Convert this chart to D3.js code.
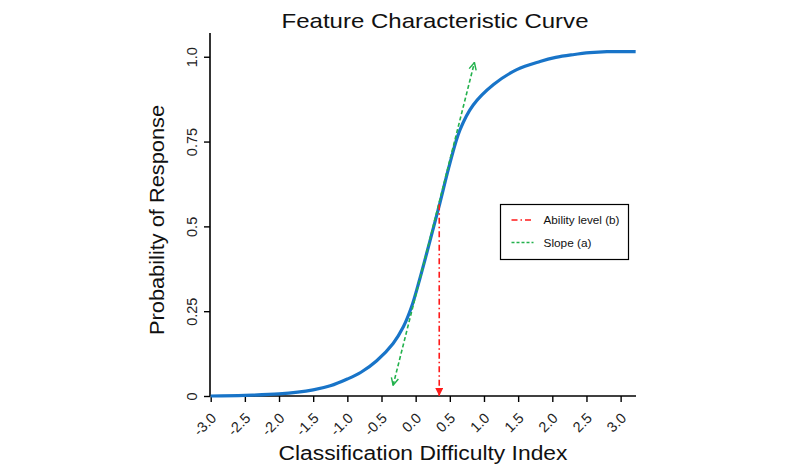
<!DOCTYPE html>
<html><head><meta charset="utf-8">
<script src="https://cdn.jsdelivr.net/npm/d3@7"></script>
<style>body{margin:0;background:#fff}svg{display:block}</style>
</head><body>
<svg id="c" width="800" height="467"></svg>
<script>
// Data
const curveX = [-3.0, -2.5, -2.0, -1.5, -1.25, -1.0, -0.8, -0.57, -0.33, -0.18, -0.06, 0.06, 0.2, 0.35, 0.5, 0.65, 0.84, 1.14, 1.48, 1.82, 2.05, 2.3, 2.55, 2.8, 3.22];
const curveY = [0.0, 0.002, 0.006, 0.018, 0.03, 0.05, 0.07, 0.104, 0.155, 0.204, 0.263, 0.345, 0.45, 0.565, 0.685, 0.785, 0.857, 0.918, 0.962, 0.986, 0.998, 1.006, 1.012, 1.015, 1.015];
const slopeX = [-0.33, 0.86];
const slopeY = [0.032, 0.983];
const abilityX = [0.345, 0.345];
const abilityY = [0.565, 0.0];
const xTicks = [-3.0, -2.5, -2.0, -1.5, -1.0, -0.5, 0.0, 0.5, 1.0, 1.5, 2.0, 2.5, 3.0];
const yTicks = [0, 0.25, 0.5, 0.75, 1.0];
const yTickLabels = ["0", "0.25", "0.5", "0.75", "1.0"];
const legendLabels = ["Ability level (b)", "Slope (a)"];

const svg = d3.select("#c");
const font = "'Liberation Sans', Arial, sans-serif";
const x = d3.scaleLinear().domain([-3, 3.225]).range([210.7, 636]);
const y = d3.scaleLinear().domain([0, 1.07]).range([396, 33]);

const defs = svg.append("defs");
defs.append("marker").attr("id","gArrow").attr("viewBox","0 0 10 10").attr("refX",9).attr("refY",5)
  .attr("markerWidth",9).attr("markerHeight",9).attr("markerUnits","userSpaceOnUse").attr("orient","auto")
  .append("path").attr("d","M1,1 L9,5 L1,9").attr("fill","none").attr("stroke","#22b14c").attr("stroke-width",1.6);
defs.append("marker").attr("id","gArrowS").attr("viewBox","0 0 10 10").attr("refX",9).attr("refY",5)
  .attr("markerWidth",9).attr("markerHeight",9).attr("markerUnits","userSpaceOnUse").attr("orient","auto-start-reverse")
  .append("path").attr("d","M1,1 L9,5 L1,9").attr("fill","none").attr("stroke","#22b14c").attr("stroke-width",1.6);
defs.append("marker").attr("id","rArrow").attr("viewBox","0 0 10 10").attr("refX",10).attr("refY",5)
  .attr("markerWidth",8).attr("markerHeight",8).attr("markerUnits","userSpaceOnUse").attr("orient","auto")
  .append("path").attr("d","M0,0 L10,5 L0,10 Z").attr("fill","#ff1a1a");

// axes
const xAxis = d3.axisBottom(x).tickValues(xTicks).tickSize(6).tickFormat(d3.format(".1f"));
const gx = svg.append("g").attr("transform", `translate(0,${y(0)})`).call(xAxis);
gx.attr("font-size", null);
gx.select(".domain").attr("d", `M${x(-3)},0H636`).attr("stroke","#000").attr("stroke-width",1.6);
gx.selectAll(".tick line").attr("stroke","#000").attr("stroke-width",1.4);
gx.selectAll(".tick text").attr("font-family",font).style("font-size","14.5px").attr("fill","#222")
  .attr("text-anchor","end").attr("dy",null).attr("y",null)
  .attr("transform","translate(6,23) rotate(-45)")
  .text(d => d3.format(".1f")(d).replace("−","-"));

const yAxis = d3.axisLeft(y).tickValues(yTicks).tickSize(6).tickFormat((d,i)=>yTickLabels[i]);
const gy = svg.append("g").attr("transform", `translate(${x(-3)-0.7},0)`).call(yAxis);
gy.attr("font-size", null);
gy.select(".domain").attr("d", `M0,33V${y(0)}`).attr("stroke","#000").attr("stroke-width",1.6);
gy.selectAll(".tick line").attr("stroke","#000").attr("stroke-width",1.4);
gy.selectAll(".tick text").attr("font-family",font).style("font-size","14.5px").attr("fill","#222")
  .attr("text-anchor","middle").attr("x",null).attr("dy",null)
  .attr("transform","translate(-13,0) rotate(-90)");

// curve
const pts = curveX.map((v,i)=>[v, curveY[i]]);
svg.append("path").datum(pts)
  .attr("d", d3.line().x(d=>x(d[0])).y(d=>y(d[1])).curve(d3.curveCatmullRom.alpha(0.5)))
  .attr("fill","none").attr("stroke","#1874c8").attr("stroke-width",3.2);

// slope line
svg.append("line")
  .attr("x1", x(slopeX[0])).attr("y1", y(slopeY[0]))
  .attr("x2", x(slopeX[1])).attr("y2", y(slopeY[1]))
  .attr("stroke","#22b14c").attr("stroke-width",1.6).attr("stroke-dasharray","4,2.5")
  .attr("marker-start","url(#gArrowS)").attr("marker-end","url(#gArrow)");

// ability line
svg.append("line")
  .attr("x1", x(abilityX[0])).attr("y1", y(abilityY[0]))
  .attr("x2", x(abilityX[1])).attr("y2", y(abilityY[1]))
  .attr("stroke","#ff1a1a").attr("stroke-width",1.6).attr("stroke-dasharray","6,3,1.5,3")
  .attr("marker-end","url(#rArrow)");

// legend
const lg = svg.append("g");
lg.append("rect").attr("x",500.5).attr("y",204.5).attr("width",128).attr("height",55)
  .attr("fill","#fff").attr("stroke","#000").attr("stroke-width",1.2);
const lstyles = [{c:"#ff1a1a", d:"6,3,1.5,3"}, {c:"#22b14c", d:"3,2"}];
const lwidths = [76, 48];
legendLabels.forEach((t,i)=>{
  const yy = 220 + i*22.5;
  lg.append("line").attr("x1",511.5).attr("x2",533.5).attr("y1",yy).attr("y2",yy)
    .attr("stroke",lstyles[i].c).attr("stroke-width",1.5).attr("stroke-dasharray",lstyles[i].d);
  lg.append("text").attr("x",543.5).attr("y",yy+4).attr("font-family",font).attr("font-size",11.5)
    .attr("fill","#111").attr("textLength",lwidths[i]).attr("lengthAdjust","spacingAndGlyphs").text(t);
});

// titles
svg.append("text").attr("x",435).attr("y",28).attr("text-anchor","middle")
  .attr("font-family",font).attr("font-size",21).attr("fill","#111")
  .attr("textLength",307).attr("lengthAdjust","spacingAndGlyphs").text("Feature Characteristic Curve");
svg.append("text").attr("x",423).attr("y",460).attr("text-anchor","middle")
  .attr("font-family",font).attr("font-size",19.5).attr("fill","#111")
  .attr("textLength",289).attr("lengthAdjust","spacingAndGlyphs").text("Classification Difficulty Index");
svg.append("text").attr("transform","translate(164,220) rotate(-90)").attr("text-anchor","middle")
  .attr("font-family",font).attr("font-size",19.5).attr("fill","#111")
  .attr("textLength",230).attr("lengthAdjust","spacingAndGlyphs").text("Probability of Response");
</script>
</body></html>
